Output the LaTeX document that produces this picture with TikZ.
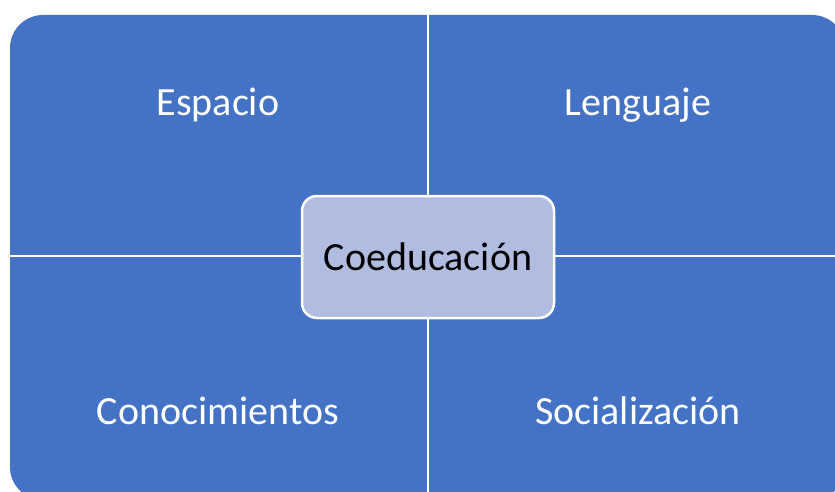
\documentclass[tikz,border=0pt]{standalone}
\usepackage{fontspec}
\setmainfont{Carlito}
\usetikzlibrary{positioning}
\definecolor{cellblue}{HTML}{4472C4}
\definecolor{hubfill}{HTML}{B0BDE0}

\begin{document}
\begin{tikzpicture}[
    x=1pt, y=-1pt,
    cell/.style = {
      fill=cellblue,
      draw=none
    },
    celltext/.style = {
      text=white,
      font=\fontsize{40}{48}\selectfont,
      align=center
    },
    hub/.style = {
      shape=rectangle,
      rounded corners=15pt,
      fill=hubfill,
      draw=white,
      line width=2.5pt,
      text=black,
      font=\fontsize{40}{48}\selectfont,
      minimum width=252pt,
      minimum height=122pt,
      align=center
    }
  ]
    \useasboundingbox (0,0) rectangle (835,492);
    \clip (0,0) rectangle (835,492);
    % the four cells
    \fill[cell, rounded corners=33pt] (10,15) rectangle (845,500);
    \draw[white, line width=2.8pt] (428,10) -- (428,505);
    \draw[white, line width=2.8pt] (5,256) -- (850,256);
    % labels of the cells
    \node[celltext] (space) at (218,105) {Espacio};
    \node[celltext] (lang) at (638,105) {Lenguaje};
    \node[celltext] (know) at (218,411) {Conocimientos};
    \node[celltext] (social) at (638,411) {Socialización};
    % centre
    \node[hub] (coed) at (428,257) {Coeducación};
  \end{tikzpicture}
\end{document}
